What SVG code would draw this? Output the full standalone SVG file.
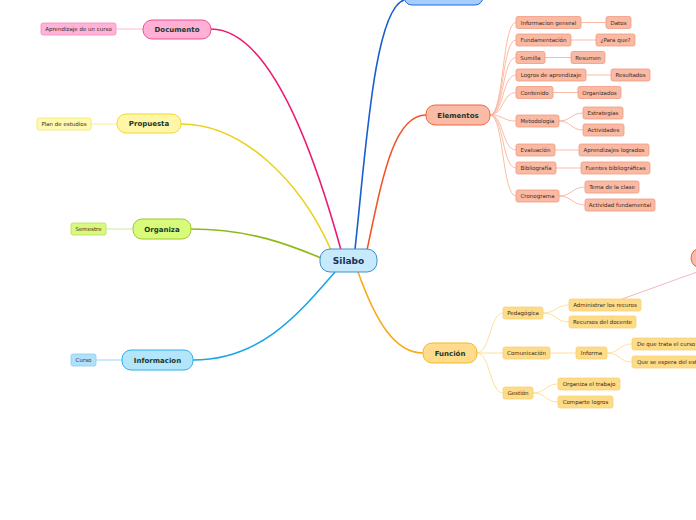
<svg xmlns="http://www.w3.org/2000/svg" width="696" height="520" viewBox="0 0 696 520">
<style>
text{font-family:"DejaVu Sans","Verdana",sans-serif;dominant-baseline:central;text-anchor:middle}
.main text{font-size:7px;font-weight:bold;fill:#17382b}
.main rect{stroke-width:1}
.sub text{font-size:5.5px;fill:#3d2a22}
.sub rect{stroke-width:0.8}
.c{fill:none}
.pk rect{fill:#ffb0d4;stroke:#ef4c98}
.pk2 rect{fill:#ffb3d6;stroke:#f48cbd}
.ye rect{fill:#fff6a8;stroke:#efd834}
.ye2 rect{fill:#fff8b0;stroke:#f3e46c}
.gr rect{fill:#d8fb7a;stroke:#9cc82a}
.gr2 rect{fill:#d9f87f;stroke:#b6df52}
.bl rect{fill:#b3e5fb;stroke:#2aaeec}
.bl2 rect{fill:#afe1fb;stroke:#88cdf4}
.or rect{fill:#f9bba6;stroke:#f0643b}
.or2 rect{fill:#f9b9a3;stroke:#f39b7d}
.fu rect{fill:#fedc8c;stroke:#f8b820}
.fu2 rect{fill:#fedb86;stroke:#f9d07a}
</style>
<g id="connectors" class="c">
  <path d="M211,29 C262,29 305,120 341,250" stroke="#ec1a74" stroke-width="1.6"/>
  <path d="M181,124 C242,124 300,180 331,250" stroke="#ecd01c" stroke-width="1.6"/>
  <path d="M191,229 C250,229 290,245 321,258" stroke="#8fb81a" stroke-width="1.6"/>
  <path d="M193,360 C262,360 300,312 335,272" stroke="#1ca5e6" stroke-width="1.6"/>
  <path d="M355,249 C366,150 374,10 404,0" stroke="#1a5fd0" stroke-width="1.6"/>
  <path d="M367,250 C382,180 393,115 426,115" stroke="#f0552a" stroke-width="1.6"/>
  <path d="M358,272 C376,322 395,353 423,353" stroke="#f9a91a" stroke-width="1.6"/>
  <g stroke-width="1.2">
    <path d="M116,29 H143" stroke="#ffc4de"/>
    <path d="M91,124 H117" stroke="#fff09a"/>
    <path d="M106,229 H133" stroke="#d8efb0"/>
    <path d="M96,360 H122" stroke="#a6dcf8"/>
  </g>
  <g stroke="#f9b39a" stroke-width="0.9">
    <path d="M490,115 C504,115 502,22.5 516,22.5"/>
    <path d="M490,115 C504,115 502,40 516,40"/>
    <path d="M490,115 C504,115 502,57.5 516,57.5"/>
    <path d="M490,115 C504,115 502,75 516,75"/>
    <path d="M490,115 C504,115 502,92.5 516,92.5"/>
    <path d="M490,115 C504,115 502,121 516,121"/>
    <path d="M490,115 C504,115 502,150 516,150"/>
    <path d="M490,115 C504,115 502,168 516,168"/>
    <path d="M490,115 C504,115 502,196 516,196"/>
    <path d="M581,22.5 H606"/>
    <path d="M571,40 H596"/>
    <path d="M545,57.5 H571"/>
    <path d="M586,75 H611"/>
    <path d="M553,92.5 H578"/>
    <path d="M559,121 C571,121 571,113 583,113"/>
    <path d="M559,121 C571,121 571,130 583,130"/>
    <path d="M555,150 H579"/>
    <path d="M556,168 H581"/>
    <path d="M559,196 C572,196 572,187 585,187"/>
    <path d="M559,196 C572,196 572,205 585,205"/>
  </g>
  <g stroke="#fddc8f" stroke-width="0.9">
    <path d="M477,353 C490,353 490,313 503,313"/>
    <path d="M477,353 H503"/>
    <path d="M477,353 C490,353 490,393 503,393"/>
    <path d="M543,313 C556,313 556,305 569,305"/>
    <path d="M543,313 C556,313 556,322 569,322"/>
    <path d="M550,353 H576"/>
    <path d="M607,353 C620,353 619,344 632,344"/>
    <path d="M607,353 C620,353 619,362 632,362"/>
    <path d="M533,393 C546,393 545,384 558,384"/>
    <path d="M533,393 C546,393 545,402 558,402"/>
  </g>
  <path d="M622,299 L697,272" stroke="#f2a3b3" stroke-width="0.8"/>
</g>
<g id="silabo" class="main"><rect x="320" y="249" width="57" height="23" rx="10" fill="#c6eafb" stroke="#3f8fce"/><text x="348.5" y="261" style="font-size:9px;fill:#1a2f55">Silabo</text></g>
<g id="documento" class="main pk"><rect x="143" y="20" width="68" height="19" rx="9"/><text x="177" y="29.5">Documento</text></g>
<g id="aprendizaje" class="sub pk2"><rect x="41" y="23" width="75" height="12" rx="2"/><text x="78.5" y="29">Aprendizaje de un curso</text></g>
<g id="propuesta" class="main ye"><rect x="117" y="114" width="64" height="19" rx="9"/><text x="149" y="124">Propuesta</text></g>
<g id="plan" class="sub ye2"><rect x="37" y="118" width="54" height="12" rx="2"/><text x="64" y="124">Plan de estudios</text></g>
<g id="organiza" class="main gr"><rect x="133" y="219" width="58" height="20" rx="9"/><text x="162" y="229.5">Organiza</text></g>
<g id="semestre" class="sub gr2"><rect x="71" y="223" width="35" height="12" rx="2"/><text x="88.5" y="229">Semestre</text></g>
<g id="informacion" class="main bl"><rect x="122" y="350" width="71" height="20" rx="9"/><text x="157.5" y="360.5">Informacion</text></g>
<g id="curso" class="sub bl2"><rect x="71" y="354" width="25" height="12" rx="2"/><text x="83.5" y="360">Curso</text></g>
<g id="top-node" class="main"><rect x="404" y="-15" width="79" height="20" rx="8" fill="#a6cdfb" stroke="#1d6bd8"/></g>
<g id="right-node" class="main"><rect x="691" y="248" width="40" height="20" rx="10" fill="#f9bba6" stroke="#f0643b"/></g>
<g id="elementos" class="main or"><rect x="426" y="105" width="64" height="20" rx="9"/><text x="458" y="115.5">Elementos</text></g>
<g id="info-general" class="sub or2"><rect x="516" y="16.5" width="65" height="12" rx="2"/><text x="548.5" y="22.5">Informacion general</text></g>
<g id="datos" class="sub or2"><rect x="606" y="16.5" width="25" height="12" rx="2"/><text x="618.5" y="22.5">Datos</text></g>
<g id="fundamentacion" class="sub or2"><rect x="516" y="34" width="55" height="12" rx="2"/><text x="543.5" y="40">Fundamentación</text></g>
<g id="para-que" class="sub or2"><rect x="596" y="34" width="39" height="12" rx="2"/><text x="615.5" y="40">¿Para que?</text></g>
<g id="sumilla" class="sub or2"><rect x="516" y="51.5" width="29" height="12" rx="2"/><text x="530.5" y="57.5">Sumilla</text></g>
<g id="resumen" class="sub or2"><rect x="571" y="51.5" width="34" height="12" rx="2"/><text x="588" y="57.5">Resumen</text></g>
<g id="logros" class="sub or2"><rect x="516" y="69" width="70" height="12" rx="2"/><text x="551" y="75">Logros de aprendizaje</text></g>
<g id="resultados" class="sub or2"><rect x="611" y="69" width="39" height="12" rx="2"/><text x="630.5" y="75">Resultados</text></g>
<g id="contenido" class="sub or2"><rect x="516" y="86.5" width="37" height="12" rx="2"/><text x="534.5" y="92.5">Contenido</text></g>
<g id="organizados" class="sub or2"><rect x="578" y="86.5" width="43" height="12" rx="2"/><text x="599.5" y="92.5">Organizados</text></g>
<g id="metodologia" class="sub or2"><rect x="516" y="115" width="43" height="12" rx="2"/><text x="537.5" y="121">Metodologia</text></g>
<g id="estrategias" class="sub or2"><rect x="583" y="107" width="40" height="12" rx="2"/><text x="603" y="113">Estrategias</text></g>
<g id="actividades" class="sub or2"><rect x="583" y="124" width="41" height="12" rx="2"/><text x="603.5" y="130">Actividades</text></g>
<g id="evaluacion" class="sub or2"><rect x="516" y="144" width="39" height="12" rx="2"/><text x="535.5" y="150">Evaluación</text></g>
<g id="aprendizajes-logrados" class="sub or2"><rect x="579" y="144" width="70" height="12" rx="2"/><text x="614" y="150">Aprendizajes logrados</text></g>
<g id="bibliografia" class="sub or2"><rect x="516" y="162" width="40" height="12" rx="2"/><text x="536" y="168">Bibliografía</text></g>
<g id="fuentes" class="sub or2"><rect x="581" y="162" width="69" height="12" rx="2"/><text x="615.5" y="168">Fuentes bibliográficas</text></g>
<g id="cronograma" class="sub or2"><rect x="516" y="190" width="43" height="12" rx="2"/><text x="537.5" y="196">Cronograma</text></g>
<g id="tema" class="sub or2"><rect x="585" y="181" width="54" height="12" rx="2"/><text x="612" y="187">Tema de la clase</text></g>
<g id="actividad-fundamental" class="sub or2"><rect x="585" y="199" width="70" height="12" rx="2"/><text x="620" y="205">Actividad fundamental</text></g>
<g id="funcion" class="main fu"><rect x="423" y="343" width="54" height="20" rx="9"/><text x="450" y="353.5">Función</text></g>
<g id="pedagogica" class="sub fu2"><rect x="503" y="307" width="40" height="12" rx="2"/><text x="523" y="313">Pedagógica</text></g>
<g id="administrar" class="sub fu2"><rect x="569" y="299" width="72" height="12" rx="2"/><text x="605" y="305">Administrar los recuros</text></g>
<g id="recursos" class="sub fu2"><rect x="569" y="316" width="67" height="12" rx="2"/><text x="602.5" y="322">Recursos del docente</text></g>
<g id="comunicacion" class="sub fu2"><rect x="503" y="347" width="47" height="12" rx="2"/><text x="526.5" y="353">Comunicación</text></g>
<g id="informa" class="sub fu2"><rect x="576" y="347" width="31" height="12" rx="2"/><text x="591.5" y="353">Informa</text></g>
<g id="de-que-trata" class="sub fu2"><rect x="632" y="338" width="76" height="12" rx="2"/><text x="637" y="344" style="text-anchor:start">De que trata el curso</text></g>
<g id="que-se-espera" class="sub fu2"><rect x="632" y="356" width="96" height="12" rx="2"/><text x="637" y="362" style="text-anchor:start">Que se espera del estudiante</text></g>
<g id="gestion" class="sub fu2"><rect x="503" y="387" width="30" height="12" rx="2"/><text x="518" y="393">Gestión</text></g>
<g id="organiza-trabajo" class="sub fu2"><rect x="558" y="378" width="62" height="12" rx="2"/><text x="589" y="384">Organiza el trabajo</text></g>
<g id="comparte" class="sub fu2"><rect x="558" y="396" width="55" height="12" rx="2"/><text x="585.5" y="402">Comparte logros</text></g>
</svg>
